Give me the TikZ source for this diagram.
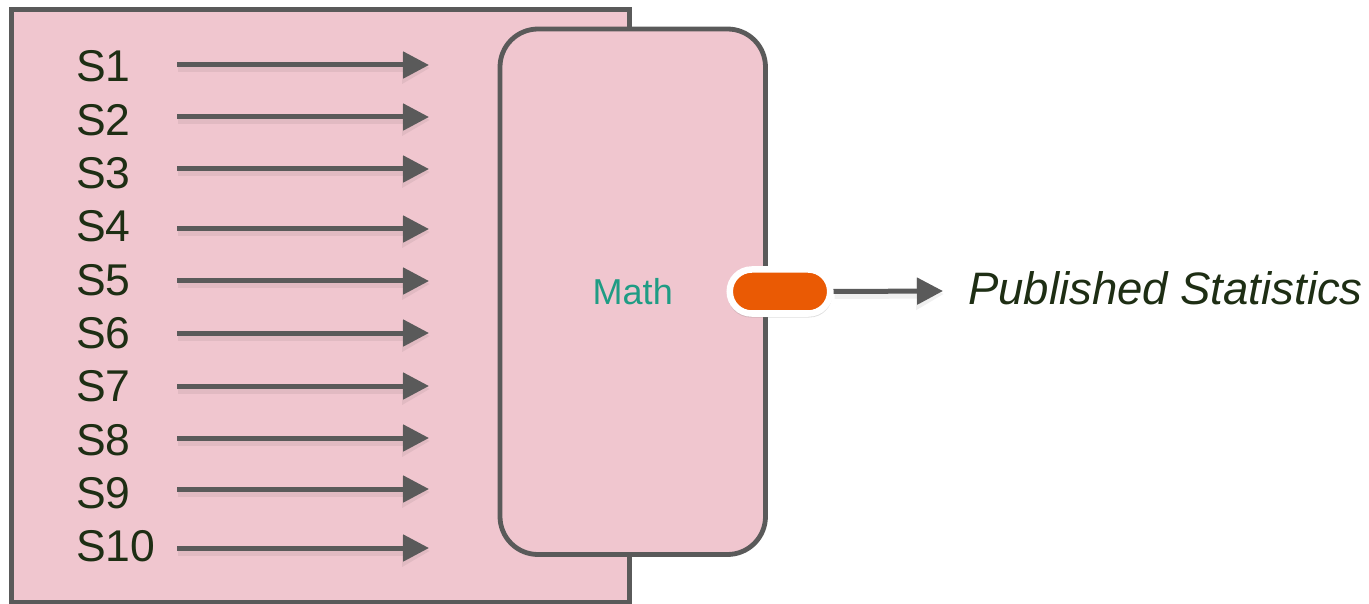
\documentclass[tikz,border=0pt]{standalone}
\usepackage{fontspec}
\setmainfont{Liberation Sans}
\usetikzlibrary{arrows.meta,shadows}
\definecolor{panelpink}{HTML}{F0C6CF}
\definecolor{edgegray}{HTML}{5A5A5A}
\definecolor{labelgreen}{HTML}{1E2E14}
\definecolor{mathteal}{HTML}{1F9C84}
\definecolor{pillorange}{HTML}{EA5A04}
\begin{document}
\begin{tikzpicture}[x=1pt,y=-1pt,
  panel/.style={draw=edgegray, line width=4.8pt, fill=panelpink, inner sep=0pt},
  slabel/.style={anchor=base west, inner sep=0pt, text=labelgreen,
                 font=\fontsize{44.5}{44.5}\selectfont},
  feed/.style={draw=edgegray, line width=5pt,
               -{Triangle[length=26pt,width=26pt]}},
  feedshadow/.style={draw=black, opacity=0.06, line width=9pt,
                     -{Triangle[length=28pt,width=30pt]}},
  port/.style={draw=white, line width=6.5pt, fill=pillorange,
               minimum width=100.5pt, minimum height=44pt,
               rounded corners=22pt, inner sep=0pt,
               drop shadow={opacity=0.25, shadow xshift=0pt, shadow yshift=-3pt,
                            shadow scale=1.04}},
]
\useasboundingbox (0,0) rectangle (1369,604);

% outer panel holding the series
\node[panel, minimum width=618pt, minimum height=592.5pt] (panel) at (320.5,305.75) {};

% series labels and their feed arrows
\foreach \i/\ty in {1/65,2/117,3/169,4/229,5/281,6/333,7/386,8/438,9/489,10/548}{
  \pgfmathsetmacro{\by}{82+(\i-1)*53.33}
  \node[slabel] (s\i) at (76,\by) {S\i};
  \coordinate (a\i) at (177,\ty);
  \coordinate (b\i) at (429,\ty);
  \draw[feedshadow, transform canvas={shift={(1,3)}}] (a\i) -- (b\i);
  \draw[feed] (a\i) -- (b\i);
}

% processing block
\node[panel, rounded corners=38pt, minimum width=265.5pt, minimum height=525.5pt,
      text=mathteal, font=\fontsize{36}{36}\selectfont] (math) at (632.75,291.75) {Math};

% output port and result
\node[port] (port) at (780,291.5) {};
\coordinate (out) at (943,291);
\draw[feedshadow, transform canvas={shift={(1,3)}}] (port.east) -- (out);
\draw[feed] (port.east) -- (out);
\node[anchor=base west, inner sep=0pt, text=labelgreen,
      font=\fontsize{45.5}{45.5}\selectfont\itshape] (pub) at (968,305) {Published Statistics};
\end{tikzpicture}
\end{document}
